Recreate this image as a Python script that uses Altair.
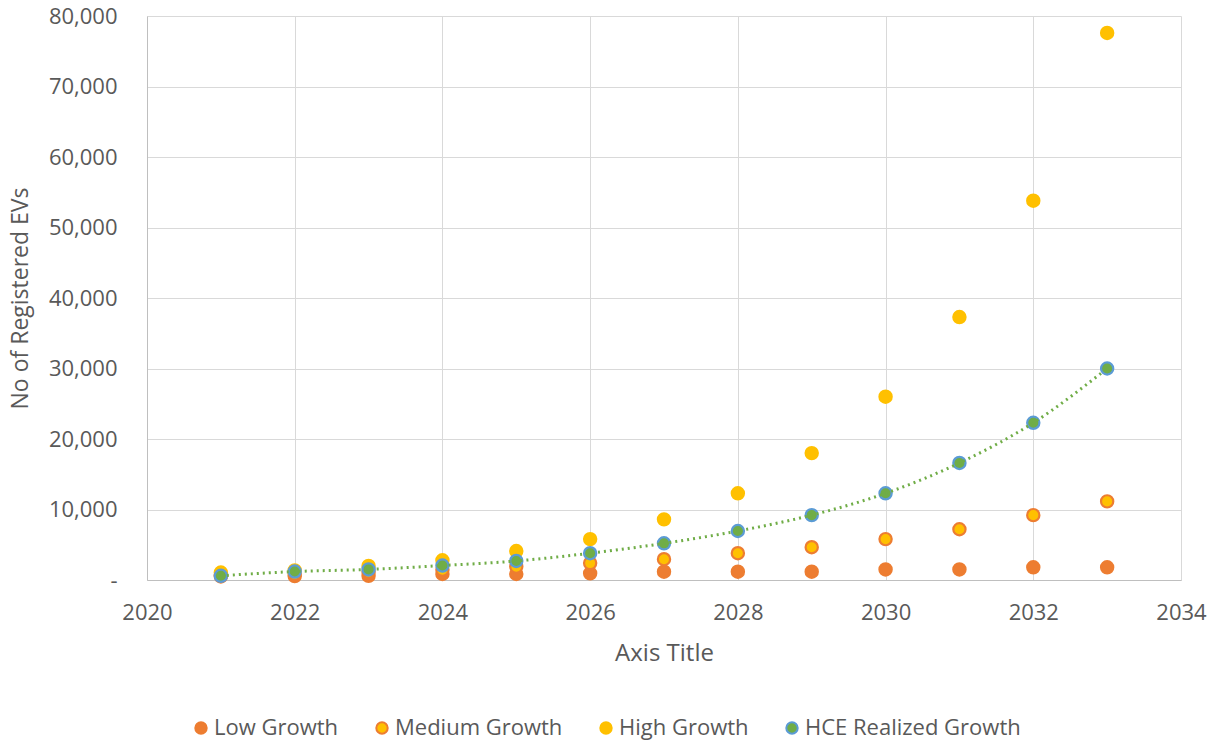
import altair as alt
import pandas as pd

years = list(range(2021, 2034))
low_growth = [500, 550, 600, 850, 850, 950, 1180, 1180, 1180, 1500, 1500, 1800, 1800]
medium_growth = [700, 850, 1150, 1450, 1900, 2400, 2950, 3800, 4650, 5800, 7200, 9200, 11150]
high_growth = [1050, 1350, 2000, 2800, 4100, 5800, 8600, 12300, 18000, 26000, 37300, 53800, 77600]
hce_growth = [600, 1200, 1500, 2050, 2700, 3800, 5200, 6950, 9200, 12300, 16600, 22300, 30000]

series_names = ["Low Growth", "Medium Growth", "High Growth", "HCE Realized Growth"]
fill_colors = ["#ED7D31", "#FFC000", "#FFC000", "#70AD47"]
stroke_colors = ["#ED7D31", "#ED7D31", "#FFC000", "#5B9BD5"]

rows = []
for name, vals in zip(series_names, [low_growth, medium_growth, high_growth, hce_growth]):
    for y, v in zip(years, vals):
        rows.append({"year": y, "value": v, "series": name, "order": series_names.index(name)})
df = pd.DataFrame(rows)
hce_df = pd.DataFrame({"year": years, "value": hce_growth})

FONT = "Open Sans"
GREY = "#595959"

x_enc = alt.X("year:Q", scale=alt.Scale(domain=[2020, 2034], nice=False),
              axis=alt.Axis(title="Axis Title", values=list(range(2020, 2035, 2)), format="d",
                            titleFontSize=24, titleFontWeight="normal", titleColor=GREY,
                            titlePadding=18, labelFontSize=22, labelColor=GREY, labelPadding=22,
                            labelFlush=False,
                            ticks=False, domainColor="#BFBFBF", gridColor="#D9D9D9",
                            labelFont=FONT, titleFont=FONT))
y_enc = alt.Y("value:Q", scale=alt.Scale(domain=[0, 80000], nice=False),
              axis=alt.Axis(title="No of Registered EVs", values=list(range(0, 80001, 10000)),
                            labelExpr="datum.value == 0 ? '-' : format(datum.value, ',')",
                            titleFontSize=23, titleFontWeight="normal", titleColor=GREY,
                            titlePadding=16, labelFontSize=22, labelColor=GREY, labelPadding=30,
                            labelFlush=False,
                            ticks=False, domainColor="#BFBFBF", gridColor="#D9D9D9",
                            labelFont=FONT, titleFont=FONT))

points = alt.Chart(df).mark_point(filled=True, shape="circle", size=150, strokeWidth=2.2, opacity=1).encode(
    x=x_enc,
    y=y_enc,
    fill=alt.Fill("series:N", scale=alt.Scale(domain=series_names, range=fill_colors),
                  legend=alt.Legend(title=None, orient="none", legendX=43, legendY=701,
                                    direction="horizontal", labelFontSize=22, labelColor=GREY,
                                    labelFont=FONT, symbolSize=130, columnPadding=32,
                                    symbolStrokeWidth=2, labelOffset=2, labelLimit=500)),
    stroke=alt.Stroke("series:N", scale=alt.Scale(domain=series_names, range=stroke_colors), legend=None),
    order=alt.Order("order:Q"),
)

line = alt.Chart(hce_df).mark_line(color="#70AD47", strokeWidth=3, strokeDash=[2, 4],
                                   interpolate="monotone").encode(x="year:Q", y="value:Q")

chart = alt.layer(points, line).properties(
    width=1034, height=564,
    padding={"left": 147, "top": 16, "right": 28, "bottom": 161},
    autosize=alt.AutoSizeParams(type="none"),
).configure_view(stroke=None)

chart.save("out.html", embed_options={"renderer": "svg", "actions": False})
